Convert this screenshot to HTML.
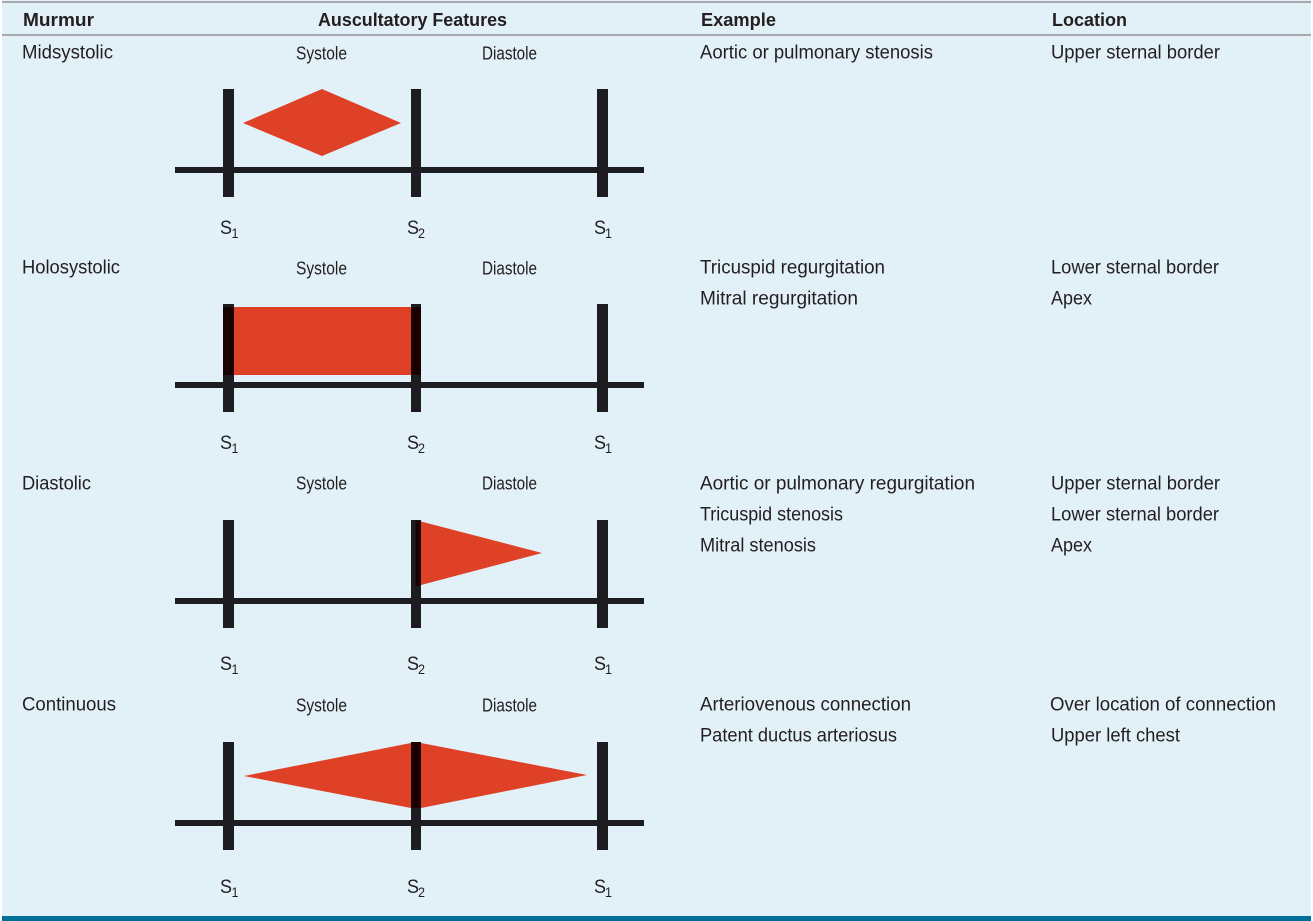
<!DOCTYPE html>
<html><head><meta charset="utf-8"><title>Heart murmurs</title>
<style>
html,body{margin:0;padding:0;background:#fff;width:1313px;height:921px;overflow:hidden}
svg{display:block}
text{font-family:"Liberation Sans",sans-serif;fill:#231f20;font-size:19px}
.b{font-weight:bold;font-size:18.5px}
.s{font-size:18.5px}
.l{font-size:19px}
.sub{font-size:14px}
</style></head><body>
<svg width="1313" height="921" viewBox="0 0 1313 921" xmlns="http://www.w3.org/2000/svg">
<rect x="2" y="0" width="1309" height="917" fill="#e2f0f8"/>
<rect x="2" y="1" width="1309" height="2" fill="#a7a9ac"/>
<rect x="2" y="34" width="1309" height="2" fill="#a7a9ac"/>
<rect x="2" y="916" width="1309" height="5" fill="#006f9a"/>

<text class="b" x="23" y="26" textLength="71" lengthAdjust="spacingAndGlyphs">Murmur</text>
<text class="b" x="318" y="26" textLength="189" lengthAdjust="spacingAndGlyphs">Auscultatory Features</text>
<text class="b" x="701" y="26" textLength="75" lengthAdjust="spacingAndGlyphs">Example</text>
<text class="b" x="1052" y="26" textLength="75" lengthAdjust="spacingAndGlyphs">Location</text>

<g class="rows">
<text x="22" y="58.5" textLength="91" lengthAdjust="spacingAndGlyphs">Midsystolic</text>
<text x="22" y="273.5" textLength="98" lengthAdjust="spacingAndGlyphs">Holosystolic</text>
<text x="22" y="489.5" textLength="69" lengthAdjust="spacingAndGlyphs">Diastolic</text>
<text x="22" y="710.5" textLength="94" lengthAdjust="spacingAndGlyphs">Continuous</text>

<text x="700" y="58.5" textLength="233" lengthAdjust="spacingAndGlyphs">Aortic or pulmonary stenosis</text>
<text x="700" y="273.5" textLength="185" lengthAdjust="spacingAndGlyphs">Tricuspid regurgitation</text>
<text x="700" y="304.5" textLength="158" lengthAdjust="spacingAndGlyphs">Mitral regurgitation</text>
<text x="700" y="489.5" textLength="275" lengthAdjust="spacingAndGlyphs">Aortic or pulmonary regurgitation</text>
<text x="700" y="520.5" textLength="143" lengthAdjust="spacingAndGlyphs">Tricuspid stenosis</text>
<text x="700" y="551.5" textLength="116" lengthAdjust="spacingAndGlyphs">Mitral stenosis</text>
<text x="700" y="710.5" textLength="211" lengthAdjust="spacingAndGlyphs">Arteriovenous connection</text>
<text x="700" y="741.5" textLength="197" lengthAdjust="spacingAndGlyphs">Patent ductus arteriosus</text>

<text x="1051" y="58.5" textLength="169" lengthAdjust="spacingAndGlyphs">Upper sternal border</text>
<text x="1051" y="273.5" textLength="168" lengthAdjust="spacingAndGlyphs">Lower sternal border</text>
<text x="1051" y="304.5" textLength="41" lengthAdjust="spacingAndGlyphs">Apex</text>
<text x="1051" y="489.5" textLength="169" lengthAdjust="spacingAndGlyphs">Upper sternal border</text>
<text x="1051" y="520.5" textLength="168" lengthAdjust="spacingAndGlyphs">Lower sternal border</text>
<text x="1051" y="551.5" textLength="41" lengthAdjust="spacingAndGlyphs">Apex</text>
<text x="1050" y="710.5" textLength="226" lengthAdjust="spacingAndGlyphs">Over location of connection</text>
<text x="1051" y="741.5" textLength="129" lengthAdjust="spacingAndGlyphs">Upper left chest</text>
</g>

<!-- Row 1 -->
<text class="s" x="296" y="59.5" textLength="51" lengthAdjust="spacingAndGlyphs">Systole</text>
<text class="s" x="482" y="59.5" textLength="55" lengthAdjust="spacingAndGlyphs">Diastole</text>
<g fill="#1d1d21">
<rect x="175" y="167" width="469" height="6"/>
<rect x="223" y="89" width="11" height="108"/><rect x="411" y="89" width="10" height="108"/><rect x="597" y="89" width="11" height="108"/>
</g>
<polygon points="243,123 322,89 401,123 322,156" fill="#de4126"/>
<text class="l" x="220" y="234" textLength="12" lengthAdjust="spacingAndGlyphs">S</text><text class="sub" x="231.5" y="238" textLength="7" lengthAdjust="spacingAndGlyphs">1</text>
<text class="l" x="407" y="234" textLength="12" lengthAdjust="spacingAndGlyphs">S</text><text class="sub" x="418" y="238" textLength="7" lengthAdjust="spacingAndGlyphs">2</text>
<text class="l" x="594" y="234" textLength="12" lengthAdjust="spacingAndGlyphs">S</text><text class="sub" x="605" y="238" textLength="7" lengthAdjust="spacingAndGlyphs">1</text>

<!-- Row 2 -->
<text class="s" x="296" y="274.5" textLength="51" lengthAdjust="spacingAndGlyphs">Systole</text>
<text class="s" x="482" y="274.5" textLength="55" lengthAdjust="spacingAndGlyphs">Diastole</text>
<g fill="#1d1d21">
<rect x="175" y="382" width="469" height="6"/>
<rect x="223" y="304" width="11" height="108"/><rect x="411" y="304" width="10" height="108"/><rect x="597" y="304" width="11" height="108"/>
</g>
<rect x="234" y="307" width="177" height="68" fill="#de4126"/>
<rect x="223" y="307" width="11" height="68" fill="#1a0000"/>
<rect x="411" y="307" width="10" height="68" fill="#1a0000"/>
<text class="l" x="220" y="449" textLength="12" lengthAdjust="spacingAndGlyphs">S</text><text class="sub" x="231.5" y="453" textLength="7" lengthAdjust="spacingAndGlyphs">1</text>
<text class="l" x="407" y="449" textLength="12" lengthAdjust="spacingAndGlyphs">S</text><text class="sub" x="418" y="453" textLength="7" lengthAdjust="spacingAndGlyphs">2</text>
<text class="l" x="594" y="449" textLength="12" lengthAdjust="spacingAndGlyphs">S</text><text class="sub" x="605" y="453" textLength="7" lengthAdjust="spacingAndGlyphs">1</text>

<!-- Row 3 -->
<text class="s" x="296" y="489.5" textLength="51" lengthAdjust="spacingAndGlyphs">Systole</text>
<text class="s" x="482" y="489.5" textLength="55" lengthAdjust="spacingAndGlyphs">Diastole</text>
<g fill="#1d1d21">
<rect x="175" y="598" width="469" height="6"/>
<rect x="223" y="520" width="11" height="108"/><rect x="411" y="520" width="10" height="108"/><rect x="597" y="520" width="11" height="108"/>
</g>
<polygon points="421,521.5 542,553 421,585" fill="#de4126"/>
<polygon points="415.5,520 421,521.5 421,585 415.5,586.5" fill="#1a0000"/>
<text class="l" x="220" y="670" textLength="12" lengthAdjust="spacingAndGlyphs">S</text><text class="sub" x="231.5" y="674" textLength="7" lengthAdjust="spacingAndGlyphs">1</text>
<text class="l" x="407" y="670" textLength="12" lengthAdjust="spacingAndGlyphs">S</text><text class="sub" x="418" y="674" textLength="7" lengthAdjust="spacingAndGlyphs">2</text>
<text class="l" x="594" y="670" textLength="12" lengthAdjust="spacingAndGlyphs">S</text><text class="sub" x="605" y="674" textLength="7" lengthAdjust="spacingAndGlyphs">1</text>

<!-- Row 4 -->
<text class="s" x="296" y="711.5" textLength="51" lengthAdjust="spacingAndGlyphs">Systole</text>
<text class="s" x="482" y="711.5" textLength="55" lengthAdjust="spacingAndGlyphs">Diastole</text>
<g fill="#1d1d21">
<rect x="175" y="820" width="469" height="6"/>
<rect x="223" y="742" width="11" height="108"/><rect x="411" y="742" width="10" height="108"/><rect x="597" y="742" width="11" height="108"/>
</g>
<polygon points="244,776 411,743 421,743 587,775 421,808 411,808" fill="#de4126"/>
<rect x="411" y="742" width="10" height="66" fill="#1a0000"/>
<text class="l" x="220" y="893" textLength="12" lengthAdjust="spacingAndGlyphs">S</text><text class="sub" x="231.5" y="897" textLength="7" lengthAdjust="spacingAndGlyphs">1</text>
<text class="l" x="407" y="893" textLength="12" lengthAdjust="spacingAndGlyphs">S</text><text class="sub" x="418" y="897" textLength="7" lengthAdjust="spacingAndGlyphs">2</text>
<text class="l" x="594" y="893" textLength="12" lengthAdjust="spacingAndGlyphs">S</text><text class="sub" x="605" y="897" textLength="7" lengthAdjust="spacingAndGlyphs">1</text>
</svg>
</body></html>
